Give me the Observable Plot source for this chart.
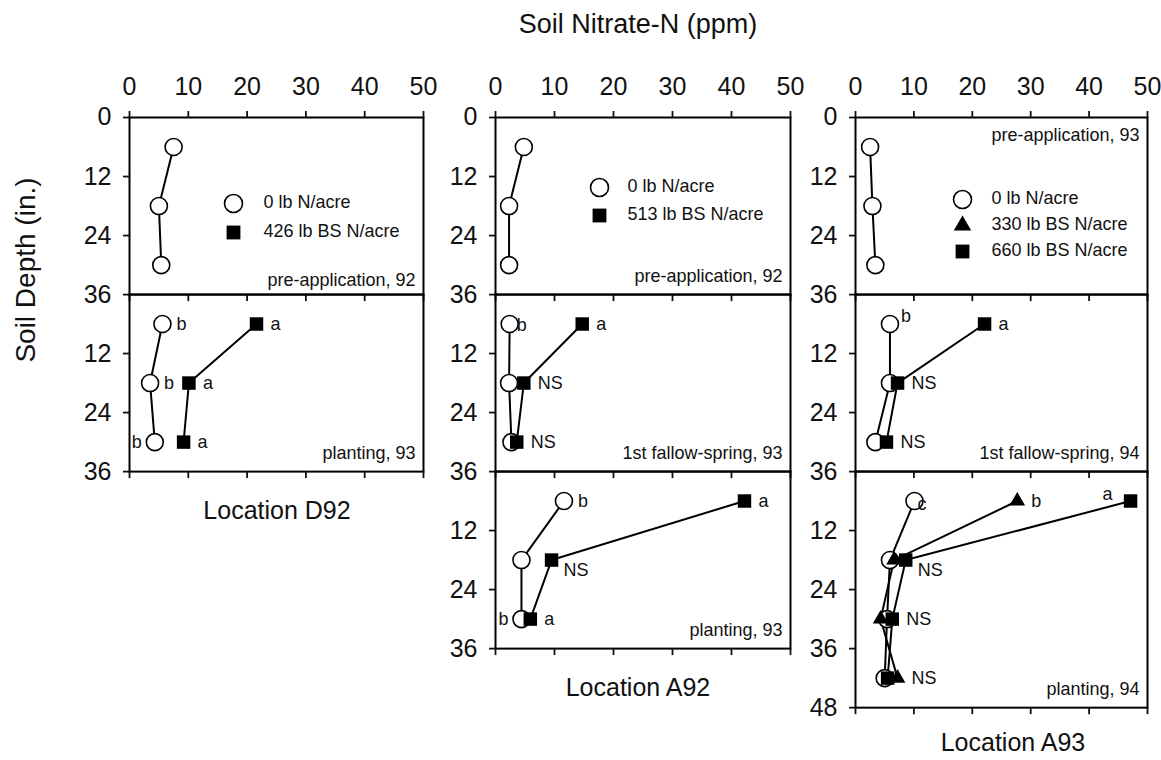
<!DOCTYPE html>
<html>
<head>
<meta charset="utf-8">
<script src="https://cdn.jsdelivr.net/npm/d3@7"></script>
<script src="https://cdn.jsdelivr.net/npm/@observablehq/plot@0.6"></script>
<style>
  html, body { margin: 0; padding: 0; background: #fff; }
  #chart { position: relative; width: 1161px; height: 760px; overflow: hidden; background: #fff; }
</style>
</head>
<body>
<div id="chart"></div>
<script>
// ---------------- DATA ----------------
const xTicks = [0, 10, 20, 30, 40, 50];
const depthTicks = [12, 24, 36, 48];
const depths = [6, 18, 30, 42];

const axisTitle = "Soil Nitrate-N (ppm)";
const depthTitle = "Soil Depth (in.)";
const locations = ["Location D92", "Location A92", "Location A93"];

const d92Treatments = ["0 lb N/acre", "426 lb BS N/acre"];
const a92Treatments = ["0 lb N/acre", "513 lb BS N/acre"];
const a93Treatments = ["0 lb N/acre", "330 lb BS N/acre", "660 lb BS N/acre"];

const d92Times = ["pre-application, 92", "planting, 93"];
const a92Times = ["pre-application, 92", "1st fallow-spring, 93", "planting, 93"];
const a93Times = ["pre-application, 93", "1st fallow-spring, 94", "planting, 94"];

// Location D92
const d92PreZero = [7.5, 5.0, 5.4];
const d92PlantZero = [5.6, 3.5, 4.3];
const d92PlantBS = [21.6, 10.1, 9.2];
const d92PlantZeroSig = ["b", "b", "b"];
const d92PlantBSSig = ["a", "a", "a"];

// Location A92
const a92PreZero = [4.8, 2.3, 2.3];
const a92FallowZero = [2.4, 2.3, 2.7];
const a92FallowBS = [14.7, 4.8, 3.6];
const a92FallowZeroSig = ["b", "", ""];
const a92FallowBSSig = ["a", "NS", "NS"];
const a92PlantZero = [11.6, 4.4, 4.4];
const a92PlantBS = [42.2, 9.5, 5.9];
const a92PlantZeroSig = ["b", "", "b"];
const a92PlantBSSig = ["a", "NS", "a"];

// Location A93
const a93PreZero = [2.5, 2.9, 3.4];
const a93FallowZero = [5.9, 5.9, 3.4];
const a93FallowHigh = [22.1, 7.2, 5.3];
const a93FallowZeroSig = ["b", "", ""];
const a93FallowHighSig = ["a", "NS", "NS"];
const a93PlantZero = [10.1, 5.9, 5.4, 5.0];
const a93PlantLow = [27.7, 6.6, 4.3, 7.2];
const a93PlantHigh = [47.1, 8.6, 6.3, 5.5];
const a93PlantZeroSig = ["c", "", "", ""];
const a93PlantLowSig = ["b", "", "", "NS"];
const a93PlantHighSig = ["a", "NS", "NS", ""];

// ---------------- LAYOUT / STYLE ----------------
const COLS = [{L: 129, R: 423}, {L: 495, R: 790}, {L: 855, R: 1147}];
const ROW_T = [117, 294, 471];
const PX_PER_IN = 4.92;
const FONT = "'Liberation Sans', Arial, Helvetica, sans-serif";
const INK = "#111";

const SYM = {
  circle: {symbol: "circle", r: 8.5, fill: "white", stroke: "#000", strokeWidth: 1.6},
  triangle: {symbol: "triangle", r: 5.8, fill: "#000", stroke: "none"},
  square: {symbol: "square", r: 7.6, fill: "#000", stroke: "none"}
};
const LEG_SYM = {
  circle: {symbol: "circle", r: 9, fill: "white", stroke: "#000", strokeWidth: 1.6},
  triangle: {symbol: "triangle", r: 6.5, fill: "#000", stroke: "none"},
  square: {symbol: "square", r: 7.8, fill: "#000", stroke: "none"}
};
const SIDES = {
  r:  {dx: 14,  dy: 0,  anchor: "start"},
  rc: {dx: 7,   dy: 1,  anchor: "start"},
  l:  {dx: -13, dy: 0,  anchor: "end"},
  ur: {dx: 11,  dy: -8, anchor: "start"},
  ul: {dx: -18, dy: -7, anchor: "end"},
  br: {dx: 12,  dy: 10, anchor: "start"},
  c:  {dx: 3,   dy: 3,  anchor: "start"}
};

const chart = document.getElementById("chart");

// overlay text (titles)
const over = d3.select(chart).append("svg")
  .attr("width", 1161).attr("height", 760)
  .style("position", "absolute").style("left", 0).style("top", 0)
  .style("font-family", FONT).attr("fill", INK);
over.append("text").attr("x", 638).attr("y", 33).attr("text-anchor", "middle")
  .attr("font-size", 27).text(axisTitle);
over.append("text").attr("transform", "translate(35,270) rotate(-90)")
  .attr("text-anchor", "middle").attr("font-size", 28).text(depthTitle);
const locPos = [[277, 519], [638, 696], [1013, 751]];
locations.forEach((t, i) => over.append("text").attr("x", locPos[i][0]).attr("y", locPos[i][1])
  .attr("text-anchor", "middle").attr("font-size", 25).text(t));

function buildPanel({col, row, maxDepth = 36, top = false, series, note, noteTop = false, noteDy = -13, legend = null}) {
  const {L, R} = COLS[col];
  const T = ROW_T[row];
  const w = R - L, h = maxDepth * PX_PER_IN;
  const mL = 70, mR = 10, mT = top ? 60 : 6, mB = 14;
  const rows = [];
  for (const s of series) {
    s.values.forEach((v, i) => rows.push({
      series: s.name, sym: s.sym, nitrate: v, depth: depths[i],
      sig: s.sig ? s.sig[i] : "", side: s.side ? s.side[i] : "r"
    }));
  }
  const yTicks = (top ? [0] : []).concat(depthTicks.filter(t => t <= maxDepth));
  const marks = [];
  marks.push(Plot.line(rows, {x: "nitrate", y: "depth", z: "series", stroke: "#000", strokeWidth: 2}));
  for (const sym of ["circle", "triangle", "square"]) {
    const sub = rows.filter(d => d.sym === sym);
    if (sub.length) marks.push(Plot.dot(sub, {x: "nitrate", y: "depth", ...SYM[sym]}));
  }
  for (const [side, o] of Object.entries(SIDES)) {
    const sub = rows.filter(d => d.sig && d.side === side);
    if (sub.length) marks.push(Plot.text(sub, {
      x: "nitrate", y: "depth", text: "sig", dx: o.dx, dy: o.dy,
      textAnchor: o.anchor, lineAnchor: "middle", fontSize: 18, fill: INK
    }));
  }
  marks.push(Plot.frame({stroke: "#000", strokeWidth: 2}));
  if (top) marks.push(Plot.axisX(xTicks, {anchor: "top", tickSize: 7, tickPadding: 15, label: null, strokeWidth: 1.8}));
  marks.push(Plot.axisX(xTicks, {anchor: "bottom", tickSize: 7, tickFormat: () => "", label: null, strokeWidth: 1.8}));
  marks.push(Plot.axisY(yTicks, {anchor: "left", tickSize: 6, tickPadding: 12, label: null, strokeWidth: 1.8}));
  marks.push(Plot.text([note], {
    frameAnchor: noteTop ? "top-right" : "bottom-right", dx: -8, dy: noteTop ? 11 : noteDy,
    fontSize: 18, fill: INK
  }));
  if (legend) {
    legend.items.forEach((it, i) => {
      const dy = legend.dy + i * legend.gap;
      marks.push(Plot.dot([0], {frameAnchor: "top-left", dx: legend.dx, dy, ...LEG_SYM[it.sym]}));
      marks.push(Plot.text([it.label], {
        frameAnchor: "top-left", dx: legend.tx, dy: dy - 1, textAnchor: "start",
        lineAnchor: "middle", fontSize: 18, fill: INK
      }));
    });
  }
  const svg = Plot.plot({
    width: w + mL + mR, height: h + mT + mB,
    marginLeft: mL, marginRight: mR, marginTop: mT, marginBottom: mB,
    x: {domain: [0, 50], label: null},
    y: {domain: [0, maxDepth], reverse: true, label: null},
    style: {background: "transparent", overflow: "visible", fontFamily: FONT, fontSize: "25px", color: INK},
    marks
  });
  svg.style.position = "absolute";
  svg.style.left = (L - mL) + "px";
  svg.style.top = (T - mT) + "px";
  svg.style.maxWidth = "none";
  chart.appendChild(svg);
}

// ---- Location D92 ----
buildPanel({col: 0, row: 0, top: true, note: d92Times[0], noteDy: -9,
  series: [{name: "zero", sym: "circle", values: d92PreZero}],
  legend: {dx: 104, dy: 86, gap: 29, tx: 134, items: [
    {sym: "circle", label: d92Treatments[0]}, {sym: "square", label: d92Treatments[1]}]}
});
buildPanel({col: 0, row: 1, note: d92Times[1],
  series: [
    {name: "zero", sym: "circle", values: d92PlantZero, sig: d92PlantZeroSig, side: ["r", "r", "l"]},
    {name: "bs", sym: "square", values: d92PlantBS, sig: d92PlantBSSig, side: ["r", "r", "r"]}]
});

// ---- Location A92 ----
buildPanel({col: 1, row: 0, top: true, note: a92Times[0],
  series: [{name: "zero", sym: "circle", values: a92PreZero}],
  legend: {dx: 104, dy: 70, gap: 28, tx: 132, items: [
    {sym: "circle", label: a92Treatments[0]}, {sym: "square", label: a92Treatments[1]}]}
});
buildPanel({col: 1, row: 1, note: a92Times[1],
  series: [
    {name: "zero", sym: "circle", values: a92FallowZero, sig: a92FallowZeroSig, side: ["rc", "r", "r"]},
    {name: "bs", sym: "square", values: a92FallowBS, sig: a92FallowBSSig, side: ["r", "r", "r"]}]
});
buildPanel({col: 1, row: 2, note: a92Times[2],
  series: [
    {name: "zero", sym: "circle", values: a92PlantZero, sig: a92PlantZeroSig, side: ["r", "r", "l"]},
    {name: "bs", sym: "square", values: a92PlantBS, sig: a92PlantBSSig, side: ["r", "br", "r"]}]
});

// ---- Location A93 ----
buildPanel({col: 2, row: 0, top: true, note: a93Times[0], noteTop: true,
  series: [{name: "zero", sym: "circle", values: a93PreZero}],
  legend: {dx: 107, dy: 82, gap: 26, tx: 136, items: [
    {sym: "circle", label: a93Treatments[0]}, {sym: "triangle", label: a93Treatments[1]},
    {sym: "square", label: a93Treatments[2]}]}
});
buildPanel({col: 2, row: 1, note: a93Times[1],
  series: [
    {name: "zero", sym: "circle", values: a93FallowZero, sig: a93FallowZeroSig, side: ["ur", "r", "r"]},
    {name: "high", sym: "square", values: a93FallowHigh, sig: a93FallowHighSig, side: ["r", "r", "r"]}]
});
buildPanel({col: 2, row: 2, maxDepth: 48, note: a93Times[2],
  series: [
    {name: "zero", sym: "circle", values: a93PlantZero, sig: a93PlantZeroSig, side: ["c", "r", "r", "r"]},
    {name: "low", sym: "triangle", values: a93PlantLow, sig: a93PlantLowSig, side: ["r", "r", "r", "r"]},
    {name: "high", sym: "square", values: a93PlantHigh, sig: a93PlantHighSig, side: ["ul", "br", "r", "r"]}]
});
</script>
</body>
</html>
